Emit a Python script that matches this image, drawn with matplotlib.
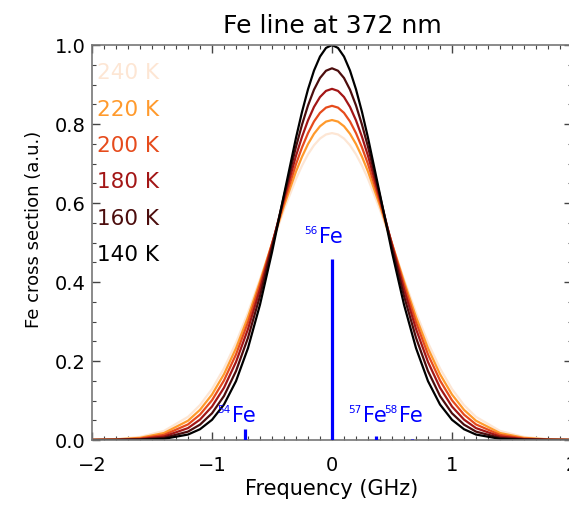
import matplotlib
matplotlib.use("Agg")
import matplotlib.pyplot as plt
from matplotlib.ticker import MultipleLocator, FormatStrFormatter

# Frequency grid (GHz) and cross sections
freq = [-2.0, -1.8, -1.6, -1.4, -1.2, -1.1, -1.0, -0.9, -0.8, -0.7, -0.6, -0.5,
        -0.4, -0.3, -0.25, -0.2, -0.15, -0.1, -0.05, 0.0,
        0.05, 0.1, 0.15, 0.2, 0.25, 0.3, 0.4, 0.5, 0.6, 0.7, 0.8, 0.9,
        1.0, 1.1, 1.2, 1.4, 1.6, 1.8, 2.0]

cs_140 = [0.0, 0.0001, 0.0005, 0.0029, 0.0138, 0.0273, 0.0511, 0.0899, 0.1490, 0.2328,
          0.3427, 0.4754, 0.6213, 0.7651, 0.8304, 0.8878, 0.9353, 0.9707, 0.9926, 1.0,
          0.9926, 0.9707, 0.9353, 0.8878, 0.8304, 0.7651, 0.6213, 0.4754, 0.3427, 0.2328,
          0.1490, 0.0899, 0.0511, 0.0273, 0.0138, 0.0029, 0.0005, 0.0001, 0.0]
cs_160 = [0.0, 0.0002, 0.0011, 0.0054, 0.0212, 0.0389, 0.0676, 0.1115, 0.1744, 0.2589,
          0.3646, 0.4871, 0.6174, 0.7424, 0.7982, 0.8469, 0.8869, 0.9165, 0.9348, 0.941,
          0.9348, 0.9165, 0.8869, 0.8469, 0.7982, 0.7424, 0.6174, 0.4871, 0.3646, 0.2589,
          0.1744, 0.1115, 0.0676, 0.0389, 0.0212, 0.0054, 0.0011, 0.0002, 0.0]
cs_180 = [0.0001, 0.0004, 0.0022, 0.0089, 0.0301, 0.0517, 0.0847, 0.1324, 0.1975, 0.2810,
          0.3814, 0.4940, 0.6103, 0.7195, 0.7675, 0.8092, 0.8432, 0.8683, 0.8838, 0.889,
          0.8838, 0.8683, 0.8432, 0.8092, 0.7675, 0.7195, 0.6103, 0.4940, 0.3814, 0.2810,
          0.1975, 0.1324, 0.0847, 0.0517, 0.0301, 0.0089, 0.0022, 0.0004, 0.0001]
cs_200 = [0.0002, 0.0009, 0.0036, 0.0130, 0.0394, 0.0643, 0.1006, 0.1508, 0.2166, 0.2980,
          0.3931, 0.4968, 0.6018, 0.6985, 0.7406, 0.7769, 0.8064, 0.8282, 0.8415, 0.846,
          0.8415, 0.8282, 0.8064, 0.7769, 0.7406, 0.6985, 0.6018, 0.4968, 0.3931, 0.2980,
          0.2166, 0.1508, 0.1006, 0.0643, 0.0394, 0.0130, 0.0036, 0.0009, 0.0002]
cs_220 = [0.0003, 0.0015, 0.0055, 0.0177, 0.0488, 0.0764, 0.1151, 0.1667, 0.2323, 0.3113,
          0.4012, 0.4973, 0.5928, 0.6795, 0.7170, 0.7492, 0.7752, 0.7943, 0.8061, 0.810,
          0.8061, 0.7943, 0.7752, 0.7492, 0.7170, 0.6795, 0.5928, 0.4973, 0.4012, 0.3113,
          0.2323, 0.1667, 0.1151, 0.0764, 0.0488, 0.0177, 0.0055, 0.0015, 0.0003]
cs_240 = [0.0006, 0.0023, 0.0078, 0.0230, 0.0586, 0.0885, 0.1290, 0.1815, 0.2462, 0.3224,
          0.4071, 0.4960, 0.5830, 0.6611, 0.6945, 0.7232, 0.7462, 0.7632, 0.7735, 0.777,
          0.7735, 0.7632, 0.7462, 0.7232, 0.6945, 0.6611, 0.5830, 0.4960, 0.4071, 0.3224,
          0.2462, 0.1815, 0.1290, 0.0885, 0.0586, 0.0230, 0.0078, 0.0023, 0.0006]

temps = [240, 220, 200, 180, 160, 140]
curves = [cs_240, cs_220, cs_200, cs_180, cs_160, cs_140]
colors = ["#fde6d4", "#ff9a2c", "#e64b1c", "#a31616", "#4c0d0d", "#000000"]

# Isotopes: mass number, shift (GHz), relative abundance line height
iso_mass = ["54", "56", "57", "58"]
iso_shift = [-0.725, 0.0, 0.367, 0.667]
iso_height = [0.029, 0.459, 0.0106, 0.0014]

fig = plt.figure(figsize=(5.69, 5.06), dpi=100)
ax = fig.add_axes([92 / 569, 65 / 506, 480 / 569, 395 / 506])

for T, col, ys in zip(temps, colors, curves):
    ax.plot(freq, ys, color=col, lw=1.6)

ax.vlines(iso_shift, 0, iso_height, colors="blue", lw=2.3, zorder=3)
for m, s, h in zip(iso_mass, iso_shift, iso_height):
    yb = 0.5 if h > 0.2 else 0.049
    ax.text(s - 0.112, yb, "Fe", color="blue", fontsize=15, ha="left", va="baseline")
    ax.annotate(m, xy=(s - 0.112, yb), xytext=(-0.5, 6.5), textcoords="offset points",
                color="blue", fontsize=7.5, ha="right", va="baseline")

# temperature labels
for i, (T, col) in enumerate(zip(temps, colors)):
    ax.text(0.0104, 0.931 - i * 0.092, f"{T} K", transform=ax.transAxes,
            color=col, fontsize=15.5, ha="left", va="center")

ax.set_xlim(-2, 2)
ax.set_ylim(0, 1)
ax.xaxis.set_major_locator(MultipleLocator(1))
ax.xaxis.set_minor_locator(MultipleLocator(0.1))
ax.yaxis.set_major_locator(MultipleLocator(0.2))
ax.yaxis.set_minor_locator(MultipleLocator(0.05))
ax.yaxis.set_major_formatter(FormatStrFormatter("%.1f"))

ax.tick_params(which="both", direction="in", top=True, right=True, color="#444444")
ax.tick_params(which="major", length=5.8, width=1)
ax.tick_params(which="minor", length=2.9, width=0.8)
ax.tick_params(axis="x", labelsize=14, pad=11)
ax.tick_params(axis="y", labelsize=14, pad=4.5)
for sp in ax.spines.values():
    sp.set_color("#777777")
    sp.set_linewidth(1.2)

ax.set_title("Fe line at 372 nm", fontsize=18, pad=9.4)
ax.set_xlabel("Frequency (GHz)", fontsize=15)
ax.set_ylabel("Fe cross section (a.u.)", fontsize=13)
ax.xaxis.set_label_coords(0.5, -0.097)
ax.yaxis.set_label_coords(-0.102, 0.537)

fig.savefig("out.png", dpi=100)
